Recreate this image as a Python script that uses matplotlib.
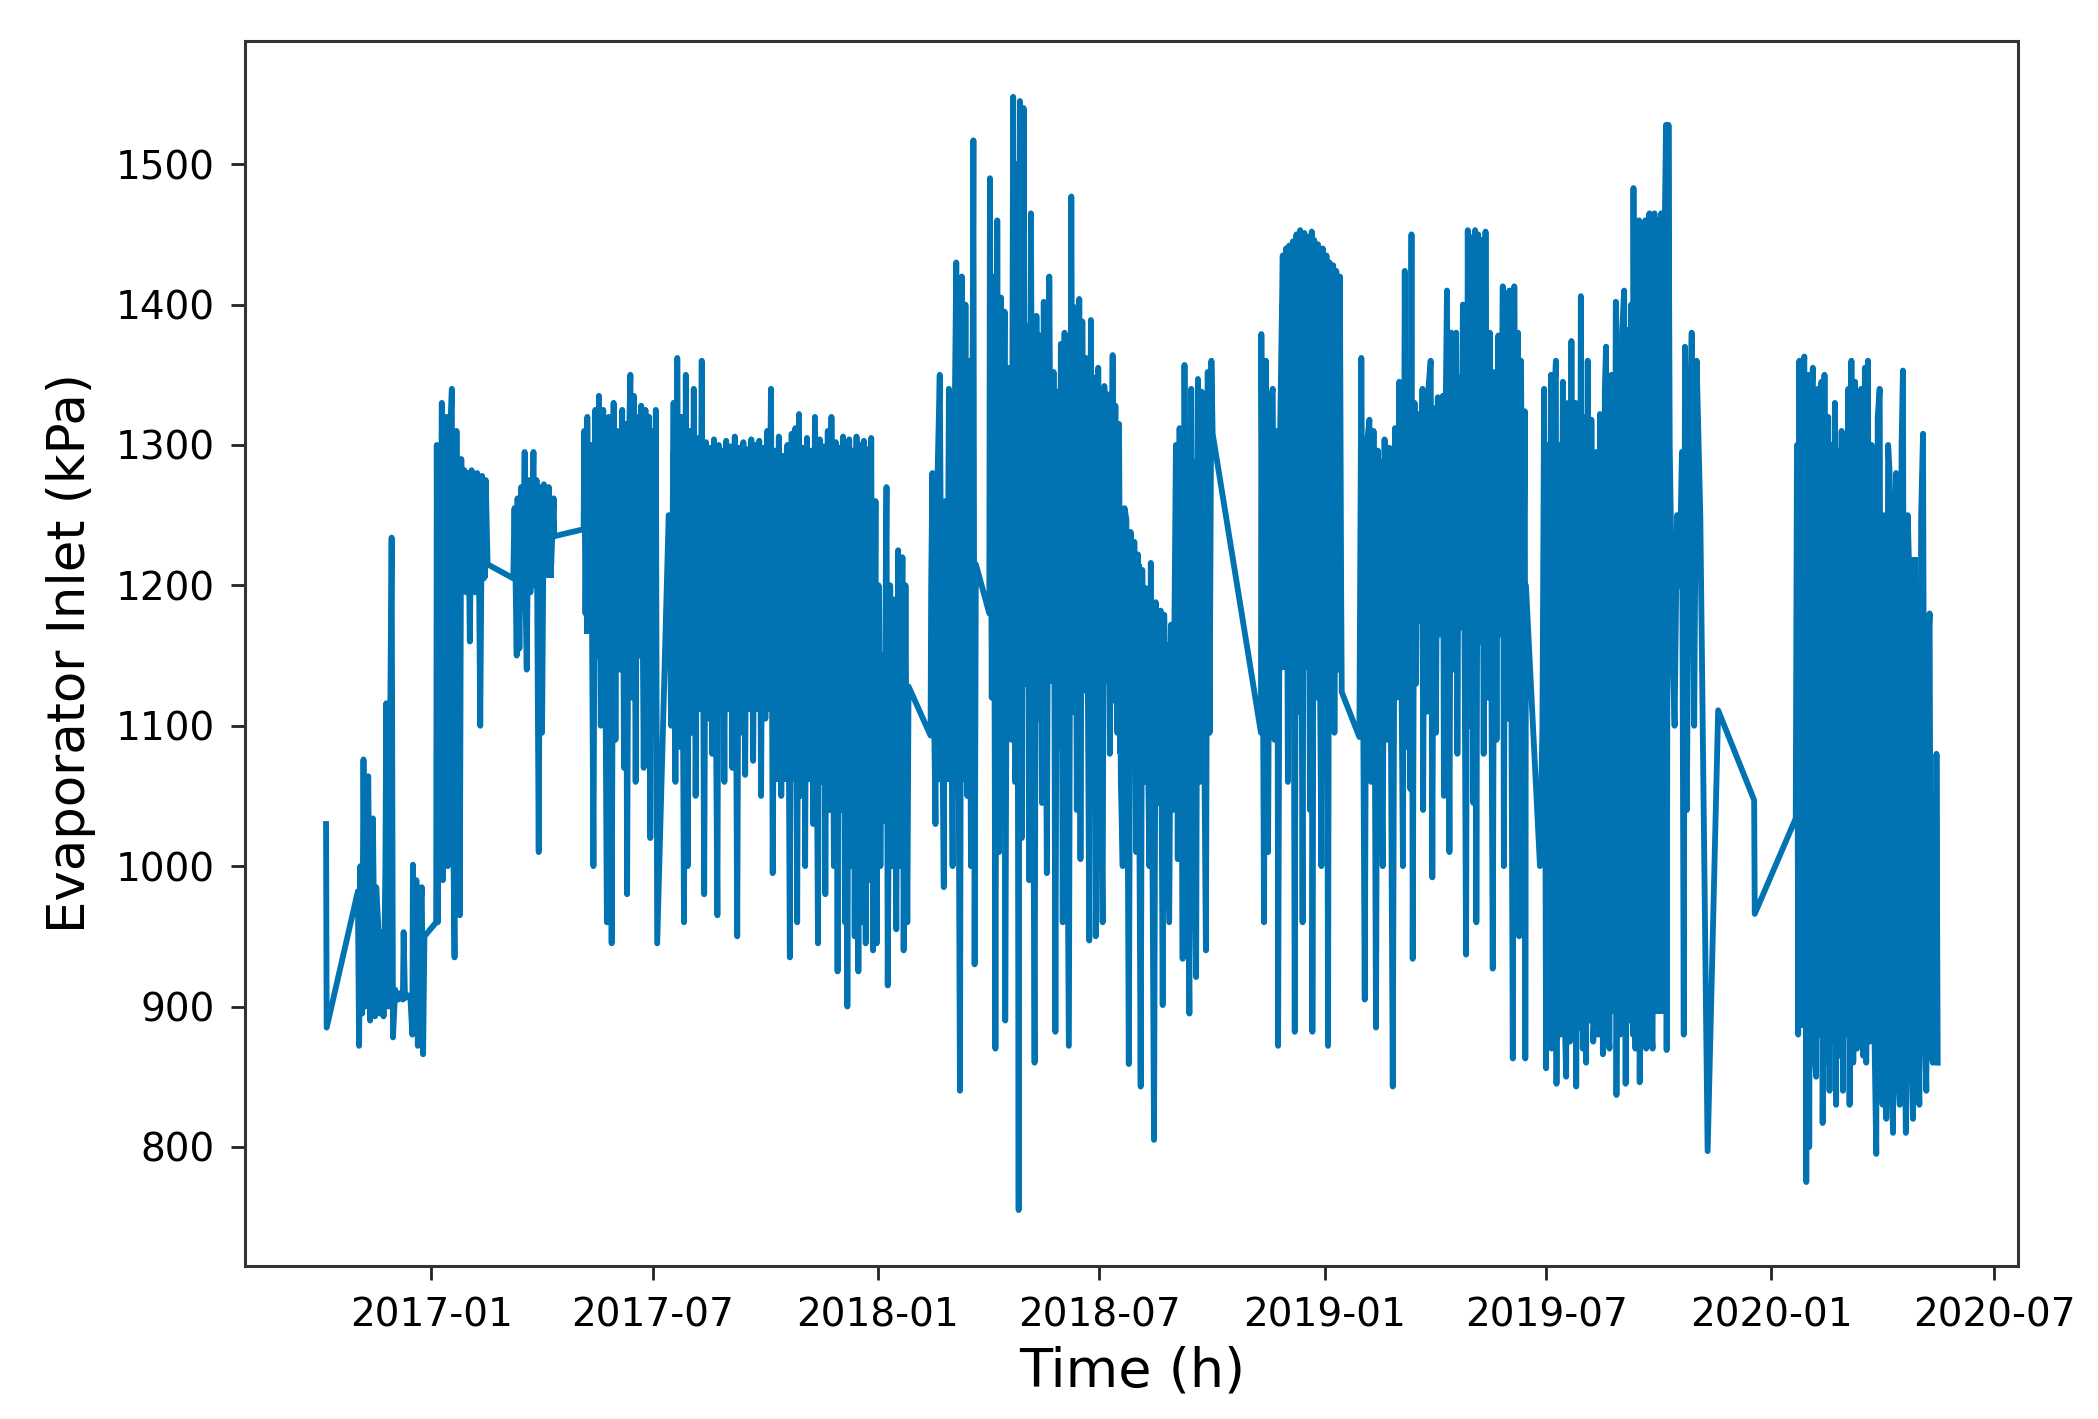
import numpy as np
import pandas as pd
import matplotlib
matplotlib.use("Agg")
import matplotlib.pyplot as plt
import matplotlib.dates as mdates

# time is counted in days from 2017-01-01, pressure in kPa
start = pd.Timestamp("2017-01-01")

# autumn 2016
seg1_day = [-86, -85.5, -60, -59, -58, -56.5, -55.4, -54, -53, -51.5,
            -50, -48.5, -47.7, -46, -45, -43.4, -42, -40.5, -39, -37.5,
            -36.8, -35, -33.5, -32.4, -31.3, -29.5, -27, -24.5, -23.2, -22.6,
            -21.5, -19, -17, -15.5, -15, -13.5, -12.2, -11, -9.5, -7.8,
            -6.7, -5.6, 4]
seg1_kpa = [1030, 885, 982, 872, 1000, 895, 1076, 900, 1050, 1064,
            890, 960, 1034, 893, 985, 959, 895, 940, 893, 1000,
            1116, 900, 1110, 1234, 878, 912, 905, 910, 905, 953,
            906, 908, 905, 880, 1001, 890, 990, 872, 960, 985,
            866, 950, 960]

# january / february 2017
seg2_day = [4.5, 5.3, 6, 7, 8.6, 9.5, 11, 12.4, 13.5, 15,
            16.8, 17.5, 19, 20.6, 21.5, 23.3, 24.5, 26, 27, 28.5,
            30, 31.5, 33, 34.5, 36, 37.5, 39, 40, 41.5, 43,
            44.5, 46]
seg2_kpa = [1300, 960, 1290, 1050, 1330, 990, 1300, 1320, 1000, 1300,
            1340, 1060, 935, 1310, 1150, 965, 1290, 1200, 1282, 1195,
            1280, 1160, 1282, 1205, 1195, 1280, 1210, 1100, 1278, 1205,
            1275, 1215]

# march 2017
seg3_day = [67, 68, 69.8, 70.5, 72, 73.5, 75, 76.3, 77, 78,
            79.5, 81, 83.5, 84.5, 86, 87.8, 89, 90.5, 92, 94,
            96, 98, 100, 100.5]
seg3_kpa = [1205, 1255, 1150, 1262, 1155, 1270, 1200, 1295, 1190, 1140,
            1275, 1195, 1295, 1200, 1275, 1010, 1270, 1095, 1272, 1210,
            1270, 1215, 1262, 1235]

# may / june 2017
seg4_day = [124.5, 125, 126, 127.5, 129, 130.5, 132.5, 134, 135.5, 137,
            138.5, 140.5, 142, 143.5, 145, 147.4, 149, 150.5, 152, 154,
            156, 157.5, 159, 160, 161.5, 162.7, 164, 165.5, 167, 168.5,
            170, 171.5, 173.6, 175, 176.5, 178, 179, 180.5, 182, 183.5,
            184.6]
seg4_kpa = [1240, 1310, 1180, 1320, 1210, 1300, 1000, 1325, 1150, 1335,
            1100, 1325, 1180, 960, 1320, 945, 1330, 1090, 1310, 1140,
            1325, 1070, 1315, 980, 1300, 1350, 1120, 1335, 1060, 1320,
            1150, 1328, 1070, 1325, 1120, 1320, 1020, 1310, 1100, 1325,
            945]

# july - december 2017
seg5_day = [194, 196, 198, 199.5, 201, 203, 204.5, 206.5, 208, 209.5,
            211, 213, 214.5, 216, 218, 219.5, 221, 223, 224.5, 226,
            228, 229.5, 231, 233.8, 235, 236.5, 238, 239.5, 241, 243,
            244.5, 246, 248, 250, 251.5, 253, 255, 256.5, 258, 260,
            261.5, 263, 265, 266.5, 268, 269.5, 271, 273, 274.5, 276,
            277.6, 279, 281, 282.5, 284, 286, 287.5, 289, 291, 293,
            294.5, 296, 297.5, 299, 300.5, 302, 304, 305.5, 307, 309,
            310.5, 312, 313.5, 316, 317.5, 319, 320.5, 322, 324, 325.5,
            327, 329, 330.5, 332, 333.5, 335, 336.5, 338, 339, 340,
            341.5, 343, 344.5, 346, 347.5, 349, 350.5, 352, 353.5, 355,
            356.5, 358, 359.5, 361]
seg5_kpa = [1250, 1100, 1330, 1060, 1362, 1085, 1320, 960, 1350, 1000,
            1310, 1095, 1340, 1050, 1305, 1125, 1360, 980, 1302, 1105,
            1298, 1080, 1304, 965, 1300, 1110, 1296, 1060, 1303, 1120,
            1299, 1070, 1306, 950, 1298, 1095, 1302, 1065, 1297, 1115,
            1304, 1075, 1300, 1125, 1303, 1050, 1298, 1105, 1310, 1200,
            1340, 995, 1296, 1150, 1306, 1050, 1292, 1100, 1300, 935,
            1308, 1080, 1312, 960, 1322, 1050, 1298, 1000, 1305, 1080,
            1296, 1030, 1320, 945, 1304, 1060, 1299, 980, 1310, 1040,
            1320, 1000, 1302, 925, 1298, 1040, 1306, 960, 1300, 900,
            1304, 1000, 1296, 950, 1306, 925, 1300, 960, 1303, 945,
            1297, 990, 1305, 940]

# january 2018
seg6_day = [363, 364, 365.5, 367, 368.5, 370, 372, 373, 375, 376.5,
            378, 380, 381.5, 383, 385, 386, 387.5, 389, 390]
seg6_kpa = [1260, 945, 1200, 1000, 1150, 1050, 1270, 915, 1200, 1000,
            1190, 955, 1225, 1000, 1220, 940, 1200, 960, 1128]

# february / march 2018
seg7_day = [408, 408.5, 409.5, 411, 412, 413.5, 415.5, 417, 418.8, 420,
            421.5, 423, 424.5, 426, 427.5, 429, 430.5, 432, 433.5, 435,
            436.5, 438, 439.5, 441, 443, 444, 445]
seg7_kpa = [1093, 1200, 1280, 1100, 1030, 1270, 1350, 1150, 985, 1260,
            1100, 1340, 1150, 1000, 1300, 1430, 1180, 840, 1420, 1100,
            1400, 1050, 1360, 1000, 1517, 930, 1215]

# april - september 2018
seg8_day = [456, 456.5, 458, 459.5, 461, 462.5, 464, 465.5, 467, 468.5,
            469, 471, 472.5, 474, 475.5, 477, 478.5, 480, 481, 482.5,
            484, 485.5, 487, 488.5, 490, 491.5, 493, 494.5, 496, 497.5,
            499, 500.5, 502, 503, 505, 507, 508.5, 510, 511.5, 513,
            514.5, 516, 517.5, 519, 521, 523, 524.5, 526, 527.5, 529.5,
            530.5, 532, 533.5, 535, 537.7, 539, 540.5, 542, 543, 545,
            546.5, 548.6, 550, 551.5, 553, 554.5, 556.8, 557.5, 559, 560.5,
            562, 563.5, 565, 566.5, 568, 570, 571.5, 573, 574.5, 576,
            577.5, 579.7, 581, 582.5, 584, 586.8, 588, 590.6, 592, 594,
            596, 597.7, 599, 601, 603, 604.5, 606, 608.5, 610, 611.5,
            614, 615.5, 617, 619.5, 621, 622.5, 625, 626.5, 628, 629.5,
            631, 633, 634.5, 636, 637.5, 638.5]
seg8_kpa = [1180, 1490, 1120, 1420, 870, 1460, 1010, 1405, 1080, 1395,
            890, 1355, 1170, 1090, 1548, 1060, 1500, 755, 1545, 1020,
            1540, 1130, 1385, 990, 1465, 1160, 860, 1392, 1105, 1378,
            1045, 1402, 1175, 995, 1420, 1140, 1352, 882, 1338, 1085,
            1372, 960, 1380, 1165, 872, 1477, 1110, 1398, 1040, 1404,
            1005, 1388, 1125, 1362, 947, 1389, 1090, 1348, 950, 1355,
            1135, 960, 1342, 1160, 1336, 1080, 1364, 1118, 1328, 1095,
            1315, 1060, 1000, 1255, 1247, 859, 1238, 1090, 1231, 1010,
            1222, 843, 1211, 1060, 1198, 1000, 1216, 805, 1188, 1045,
            1182, 901, 1179, 1070, 960, 1172, 1040, 1300, 1005, 1312,
            934, 1357, 1115, 895, 1340, 1090, 921, 1347, 1060, 1338,
            1160, 940, 1352, 1095, 1360, 1308]

# november / december 2018
seg10_day = [678, 678.3, 679.5, 680.5, 682, 683.8, 685.5, 687.6, 689, 691.4,
             692, 693.5, 695.8, 697, 698.5, 700, 701, 702.5, 704, 705.6,
             707, 708.5, 710, 712, 713.5, 715, 716.5, 718, 719.5, 720,
             721.5, 723, 724.5, 726, 727.4, 728.5, 730, 731.5, 732.8, 734,
             735.5, 737, 738, 739.5, 741, 742.5, 743.5, 744]
seg10_kpa = [1095, 1379, 1160, 960, 1360, 1010, 1330, 1340, 1090, 1310,
             872, 1300, 1435, 1210, 1440, 1060, 1442, 1140, 1445, 882,
             1450, 1110, 1453, 960, 1451, 1170, 1448, 1040, 1452, 882,
             1446, 1120, 1443, 1160, 1000, 1440, 1090, 1435, 872, 1430,
             1155, 1428, 1095, 1424, 1140, 1420, 1200, 1124]

# january - june 2019
seg11_day = [758.4, 760, 761.5, 762.8, 764.5, 766.6, 768, 770, 772, 773.5,
             775, 777.5, 779, 781, 783, 784.5, 785.7, 787.5, 789, 791,
             792.5, 794, 795.5, 797, 798.5, 800, 801, 802, 803.5, 804.8,
             806.5, 808, 810, 810.5, 812, 813.5, 815, 816.7, 818, 819.5,
             821, 822.5, 824, 826.6, 827.5, 829, 830, 832, 833.5, 835,
             836.5, 837.5, 838.5, 840, 841.5, 843, 845.6, 847, 848.5, 850,
             851.5, 853, 854, 855.5, 857, 858.5, 860, 861.5, 862, 863.5,
             865, 867.4, 869, 870.5, 872, 873.5, 875.6, 876.5, 878, 879.5,
             881, 882.5, 883.8, 885, 886.5, 888, 889, 890.5, 892, 893.6,
             894, 894.5, 906]
seg11_kpa = [1092, 1362, 1110, 905, 1300, 1318, 1060, 1310, 885, 1296,
             1160, 1000, 1304, 1090, 1298, 1045, 843, 1312, 1120, 1345,
             1170, 1000, 1424, 1085, 1352, 1055, 1450, 934, 1330, 1130,
             1322, 1175, 1340, 1040, 1328, 1110, 1342, 1360, 992, 1326,
             1095, 1334, 1165, 1335, 1050, 1328, 1410, 1010, 1380, 1140,
             1352, 1380, 1080, 1348, 1170, 1400, 937, 1453, 1100, 1448,
             1045, 1453, 960, 1450, 1160, 1446, 1080, 1452, 1350, 1120,
             1380, 927, 1352, 1090, 1378, 1165, 1413, 1000, 1402, 1105,
             1410, 1150, 863, 1413, 1085, 1380, 950, 1360, 1120, 1324,
             863, 1200, 1000]

# july - november 2019
seg12_day = [908, 909.4, 911, 912.5, 914, 915, 915.5, 917, 919, 919.5,
             921, 922.5, 924.7, 926, 927.4, 929, 930.5, 931.7, 933, 935,
             935.6, 937, 938, 939.4, 941, 942.5, 943.7, 945, 946.5, 948,
             949.5, 950.8, 952, 953.5, 955, 957.4, 959, 960, 961.5, 962.8,
             964.5, 966, 968, 968.5, 970, 971.5, 973, 974.8, 976, 977.5,
             979, 980.5, 981.9, 982.4, 984, 985.5, 987, 987.5, 989, 990.5,
             992, 992.8, 994, 995.5, 997, 998, 999.5, 1001, 1002.5, 1003.7,
             1005, 1006.5, 1008, 1009, 1009.5, 1011, 1012, 1014.6, 1016, 1018,
             1020, 1022, 1023.5, 1024.5, 1026, 1028, 1030, 1032, 1034, 1037,
             1043, 1051.6, 1081, 1081.5]
seg12_kpa = [1100, 1340, 856, 1300, 890, 1350, 870, 1320, 1360, 845,
             1300, 880, 1345, 900, 850, 1330, 875, 1374, 895, 1330,
             843, 1296, 885, 1406, 870, 1320, 860, 1360, 890, 1318,
             875, 900, 1295, 880, 1322, 866, 1340, 1370, 890, 870,
             1350, 905, 1402, 837, 1362, 880, 1380, 1410, 845, 1382,
             890, 1400, 880, 1483, 870, 1420, 1460, 846, 1450, 895,
             1460, 870, 1456, 1465, 885, 870, 1465, 910, 1460, 900,
             1465, 930, 1458, 1528, 869, 1528, 1300, 1147, 1100, 1250,
             1200, 1295, 880, 1370, 1040, 1300, 1380, 1100, 1360, 1250,
             797, 1111, 1047, 966]

# january - may 2020
seg13_day = [1115, 1116, 1117, 1118, 1119.5, 1121, 1122, 1123.6, 1125, 1126,
             1127.5, 1129, 1130, 1131.7, 1133, 1134.5, 1136, 1137, 1138.5, 1140,
             1141.5, 1142.6, 1144, 1145.5, 1147, 1148, 1149.5, 1151, 1152.5, 1153.6,
             1155, 1156.5, 1158, 1159, 1160.5, 1162, 1163.5, 1165, 1167, 1168.5,
             1170, 1171.5, 1172.6, 1174, 1175.5, 1177, 1178, 1179.5, 1180.8, 1182,
             1183.6, 1185, 1186, 1187.5, 1189, 1190.5, 1191.7, 1193, 1194.5, 1196,
             1197, 1198.5, 1200, 1201.5, 1202.6, 1204, 1205, 1206.5, 1208, 1209.5,
             1210.8, 1212, 1213.5, 1215, 1216, 1217.5, 1219, 1220.5, 1221.7, 1223,
             1224.4, 1225.5, 1227, 1228.5, 1229.5, 1230, 1231]
seg13_kpa = [1034, 1300, 880, 1360, 900, 1340, 1363, 775, 1350, 800,
             1330, 1355, 870, 850, 1340, 880, 1345, 817, 1350, 860,
             1320, 840, 1300, 875, 1330, 830, 1296, 865, 1310, 840,
             1290, 880, 1340, 830, 1360, 860, 1345, 870, 880, 1340,
             865, 1355, 860, 1360, 875, 1300, 1200, 870, 795, 1320,
             1340, 860, 830, 1250, 820, 1300, 1280, 865, 810, 1250,
             1280, 855, 830, 1300, 1353, 870, 810, 1250, 1200, 860,
             820, 1150, 1200, 870, 830, 1250, 1308, 880, 840, 1150,
             1180, 870, 860, 1050, 880, 1080, 860]

# solid cores of the dense blocks: start day, end day, low, high
core_start = [-58, 5, 24, 67.5, 125, 195, 278, 363, 409, 457, 505, 560, 581, 608,
              678.5, 693, 760, 909, 980, 1116, 1175, 1215]
core_end = [-32, 24, 46, 100, 184, 278, 361, 389, 444, 505, 560, 581, 607, 637,
            693, 743, 894, 980, 1011, 1175, 1215, 1230]
core_lo = [905, 1020, 1205, 1205, 1165, 1110, 1060, 1030, 1060, 1170, 1130, 1080, 1080, 1125,
           1170, 1140, 1180, 895, 895, 885, 885, 885]
core_hi = [955, 1290, 1272, 1255, 1295, 1294, 1294, 1150, 1260, 1330, 1315, 1215, 1160, 1290,
           1300, 1400, 1290, 1280, 1380, 1280, 1220, 1040]

days = np.concatenate([seg1_day, seg2_day, seg3_day, seg4_day, seg5_day, seg6_day,
                       seg7_day, seg8_day, seg10_day, seg11_day, seg12_day, seg13_day])
kpa = np.concatenate([seg1_kpa, seg2_kpa, seg3_kpa, seg4_kpa, seg5_kpa, seg6_kpa,
                      seg7_kpa, seg8_kpa, seg10_kpa, seg11_kpa, seg12_kpa, seg13_kpa])
t = start + pd.to_timedelta(days, unit="D")

color = "#0173b2"

fig = plt.figure(figsize=(20.98, 14.19), dpi=100)
ax = fig.add_axes([0.117, 0.108, 0.845, 0.863])

for s, e, lo, hi in zip(core_start, core_end, core_lo, core_hi):
    ts = start + pd.to_timedelta([s, e], unit="D")
    ax.fill_between(ts, [lo, lo], [hi, hi], color=color, linewidth=0)

ax.plot(t, kpa, color=color, linewidth=4.2)

ax.xaxis.set_major_locator(mdates.MonthLocator(bymonth=[1, 7]))
ax.xaxis.set_major_formatter(mdates.DateFormatter("%Y-%m"))
ax.set_yticks(range(800, 1501, 100))

ax.set_xlabel("Time (h)", fontsize=39, labelpad=8)
ax.set_ylabel("Evaporator Inlet (kPa)", fontsize=37, labelpad=14)
ax.tick_params(labelsize=28, length=10, width=2, pad=12, color="#222222")
for sp in ax.spines.values():
    sp.set_linewidth(2.2)
    sp.set_color("#333333")

fig.savefig("out.png", dpi=100)
